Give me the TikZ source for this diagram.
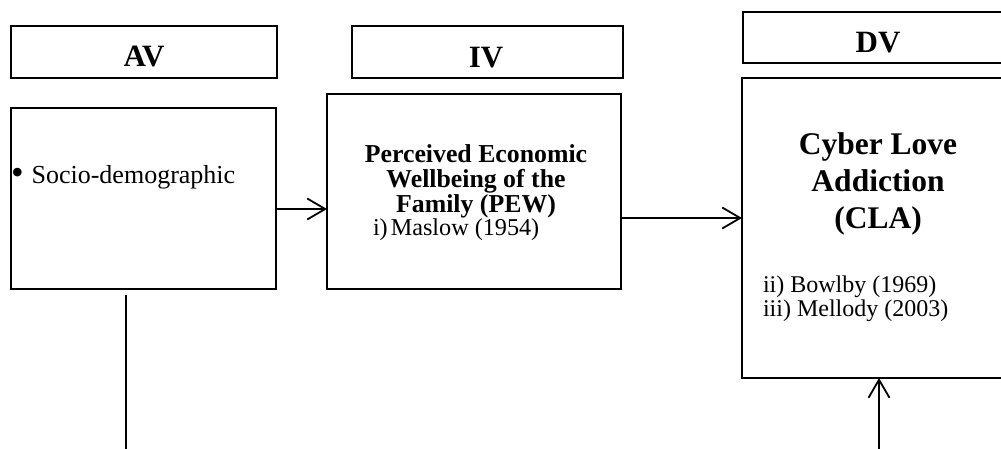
\documentclass[tikz,border=0pt]{standalone}
\usepackage{fontspec}
\setmainfont{Liberation Serif}
\usetikzlibrary{arrows.meta}
\newcommand\hdrfont{\fontsize{31pt}{34pt}\selectfont\bfseries}
\newcommand\ivfont{\fontsize{25.8pt}{25pt}\selectfont\bfseries}
\newcommand\dvfont{\fontsize{31.5pt}{37pt}\selectfont\bfseries}
\newcommand\bodyfont{\fontsize{24.2pt}{27pt}\selectfont}
\newcommand\reffont{\fontsize{24pt}{24pt}\selectfont}
\begin{document}
\begin{tikzpicture}[x=1pt,y=-1pt,
  box/.style={draw=black, line width=1.8pt, inner sep=0pt, outer sep=0pt},
  lbl/.style={inner sep=0pt, outer sep=0pt, anchor=base},
  arr/.style={line width=1.8pt, -{Straight Barb[length=18pt,width=21pt,line width=1.8pt]}},
  ln/.style={line width=1.8pt}]
\useasboundingbox (0,0) rectangle (1001,448);
\fill[white] (0,0) rectangle (1001,448);
\clip (0,0) rectangle (1001,448);

% header boxes
\node[box, minimum width=266pt, minimum height=52pt] (AVh) at (144,52) {};
\node[box, minimum width=271pt, minimum height=52pt] (IVh) at (487.5,52) {};
\node[box, minimum width=270pt, minimum height=51pt] (DVh) at (878,37.5) {};
\node[lbl] (AVt) at (144,66) {\hdrfont AV};
\node[lbl] (IVt) at (486,67) {\hdrfont IV};
\node[lbl] (DVt) at (878,52) {\hdrfont DV};

% main boxes
\node[box, minimum width=265pt, minimum height=181pt] (AVb) at (143.5,198.5) {};
\node[box, minimum width=294pt, minimum height=195pt] (IVb) at (474,191.5) {};
\node[box, minimum width=272pt, minimum height=300pt] (DVb) at (878,228) {};

% AV text
\node[lbl, anchor=base west] (socio) at (11,183) {\fontsize{26pt}{28pt}\selectfont{\fontsize{36pt}{36pt}\selectfont\raisebox{-1.5pt}{\textbullet}}\hspace{8pt}Socio-demographic};

% IV text
\node[lbl] (iv1) at (476,162.5) {\ivfont Perceived Economic};
\node[lbl] (iv2) at (476,187.5) {\ivfont Wellbeing of the};
\node[lbl] (iv3) at (476,212.2) {\ivfont Family (PEW)};
\node[lbl, anchor=base west] (iv4) at (373,235) {\bodyfont i)\hspace{3pt}Maslow (1954)};

% DV text
\node[lbl] (dv1) at (878,154) {\dvfont Cyber Love};
\node[lbl] (dv2) at (878,191.5) {\dvfont Addiction};
\node[lbl] (dv3) at (878,228) {\dvfont (CLA)};
\node[lbl, anchor=base west] (dv4) at (763,292.5) {\reffont ii) Bowlby (1969)};
\node[lbl, anchor=base west] (dv5) at (763,316.5) {\reffont iii) Mellody (2003)};

% connectors
\coordinate (ya) at (0,209);
\coordinate (yb) at (0,218);
\draw[arr] (AVb.east |- ya) -- (IVb.west |- ya);
\draw[arr] (IVb.east |- yb) -- (DVb.west |- yb);
\coordinate (lt) at (126,295);
\coordinate (lb) at (126,452);
\draw[ln] (lt) -- (lb);
\coordinate (ub) at (879,452);
\draw[arr] (ub) -- (DVb.south -| ub);
\end{tikzpicture}
\end{document}
